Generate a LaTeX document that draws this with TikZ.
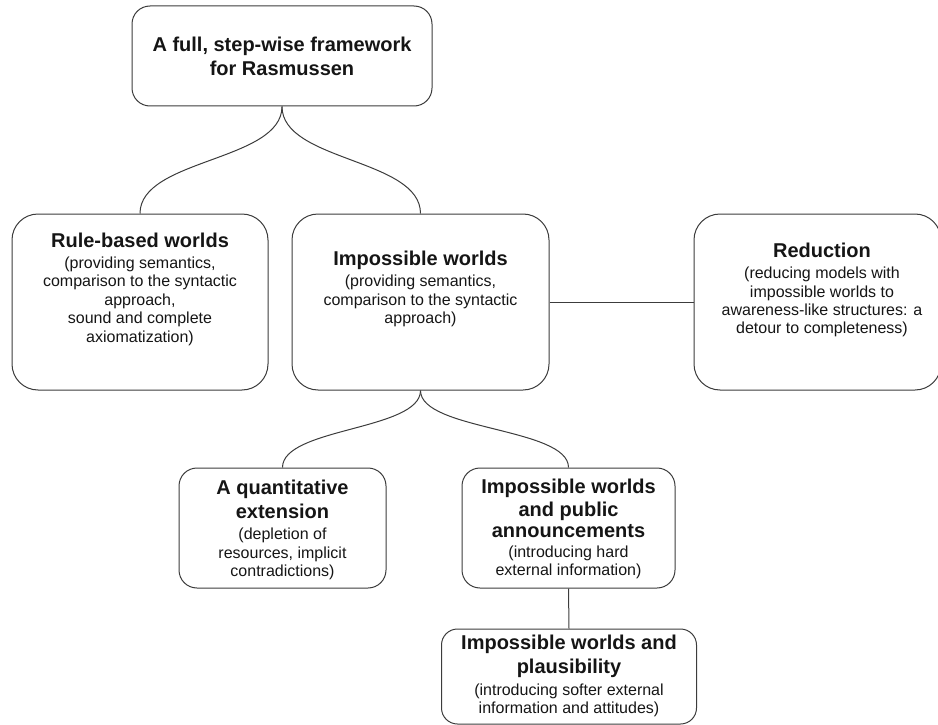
\documentclass[tikz,border=0pt]{standalone}
\usepackage{fontspec}
\setmainfont{Liberation Sans}
\newcommand\boxtitle[1]{{\fontsize{20}{23}\selectfont\bfseries #1}}
\definecolor{linecol}{HTML}{3C3C3C}
\definecolor{textcol}{HTML}{151515}
\tikzset{
  box/.style={draw=linecol, line width=1pt, rounded corners=#1, inner sep=0pt},
  box/.default=24pt,
  txt/.style={align=center, font=\fontsize{16}{18.4}\selectfont, inner sep=0pt, text=textcol},
  conn/.style={draw=linecol, line width=1pt},
}
\begin{document}
\begin{tikzpicture}[x=1pt, y=-1pt]
\useasboundingbox (0,0) rectangle (938,725);
\clip (0,0) rectangle (938,725);
% boxes
\node[box=18pt, minimum width=300pt, minimum height=100pt] (top) at (282,56) {};
\node[box=26pt, minimum width=256pt, minimum height=176pt] (rule) at (140,302) {};
\node[box=26pt, minimum width=257pt, minimum height=176pt] (imp) at (420.5,302) {};
\node[box=26pt, minimum width=247pt, minimum height=176pt] (red) at (817.5,302) {};
\node[box=18pt, minimum width=207pt, minimum height=120pt] (quant) at (282.5,528) {};
\node[box=18pt, minimum width=213pt, minimum height=120pt] (ann) at (568.5,528) {};
\node[box=16pt, minimum width=255pt, minimum height=95pt] (plaus) at (569,676.5) {};
% texts
\node[txt] (topT) at (282,56) {\boxtitle{A full, step-wise framework}\\[4.6pt]\boxtitle{for Rasmussen}};
\node[txt] (ruleT) at (140,289) {\boxtitle{Rule-based worlds}\\[3pt](providing semantics,\\comparison to the syntactic\\approach,\\sound and complete\\axiomatization)};
\node[txt] (impT) at (420.5,289) {\boxtitle{Impossible worlds}\\[3pt](providing semantics,\\comparison to the syntactic\\approach)};
\node[txt] (redT) at (822,290) {\boxtitle{Reduction}\\[3pt](reducing models with\\impossible worlds to\\awareness-like structures: a\\detour to completeness)};
\node[txt] (quantT) at (282.5,530) {\boxtitle{A quantitative}\\[4pt]\boxtitle{extension}\\[3pt](depletion of\\resources, implicit\\contradictions)};
\node[txt] (annT) at (568.5,529) {\boxtitle{Impossible worlds}\\[3pt]\boxtitle{and public}\\[3pt]\boxtitle{announcements}\\[1pt](introducing hard\\external information)};
\node[txt] (plausT) at (569,676) {\boxtitle{Impossible worlds and}\\[4.6pt]\boxtitle{plausibility}\\[3pt](introducing softer external\\information and attitudes)};
% connectors
\draw[conn] (top.south) .. controls +(0,55) and +(0,-55) .. (rule.north);
\draw[conn] (top.south) .. controls +(0,55) and +(0,-55) .. (imp.north);
\draw[conn] (imp.south) .. controls +(0,40) and +(0,-40) .. (quant.north);
\draw[conn] (imp.south) .. controls +(0,40) and +(0,-40) .. (ann.north);
\draw[conn] (ann.south) -- (plaus.north);
\draw[conn] (imp.east) -- (red.west);
\end{tikzpicture}
\end{document}
